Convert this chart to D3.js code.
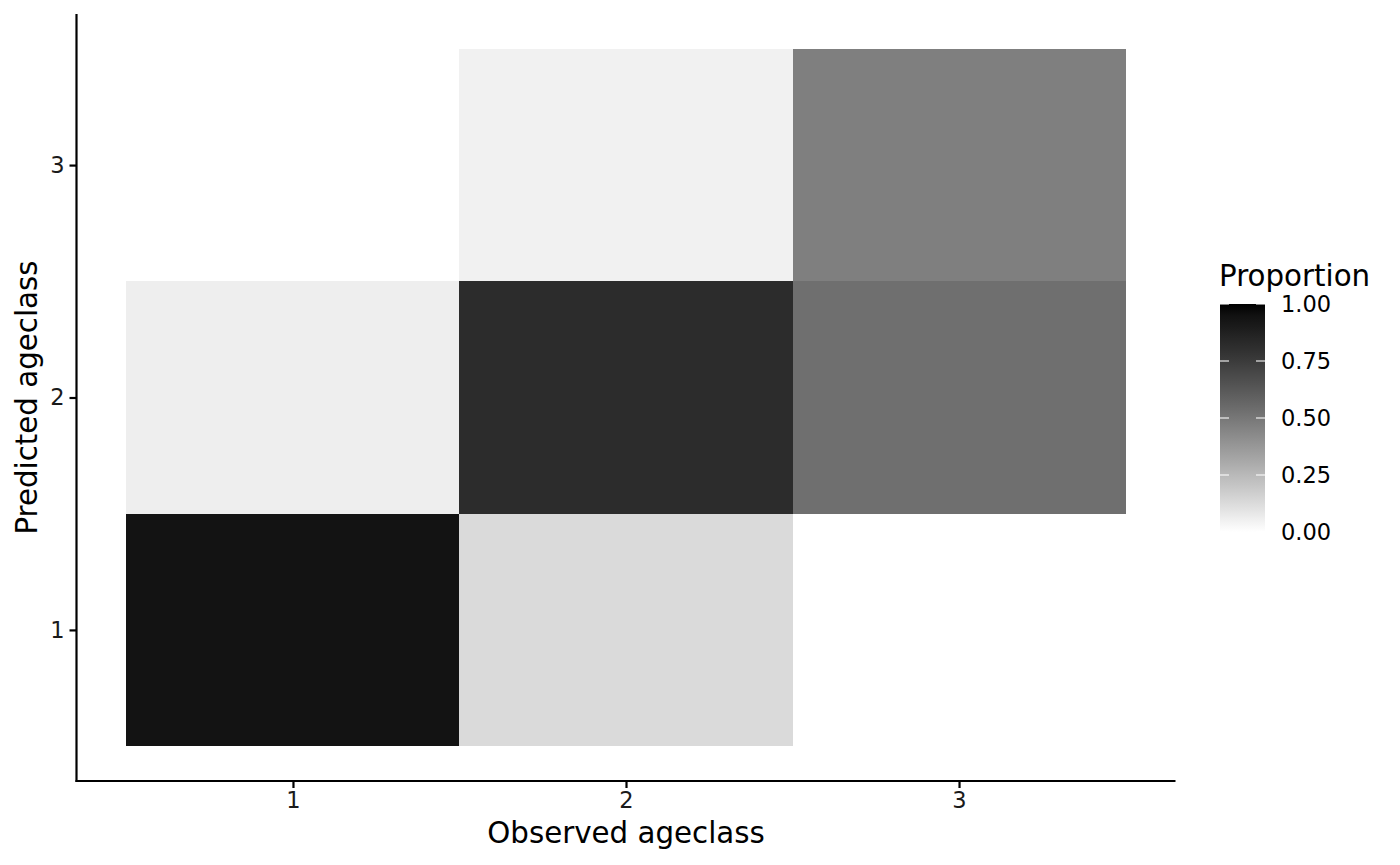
<!DOCTYPE html>
<html><head><meta charset="utf-8">
<script src="https://cdn.jsdelivr.net/npm/d3@7"></script>
<style>body{margin:0;background:#fff}svg{display:block}text{font-family:"DejaVu Sans",sans-serif}</style>
</head><body><svg id="c" width="1400" height="865"></svg>
<script>
const observed = [1, 1, 2, 2, 2, 3, 3];
const predicted = [1, 2, 1, 2, 3, 2, 3];
const proportion = [0.94, 0.06, 0.13, 0.82, 0.05, 0.53, 0.47];
const xTicks = [1, 2, 3];
const yTicks = [1, 2, 3];
const legendTicks = [0, 0.25, 0.5, 0.75, 1];

const svg = d3.select("#c");
const panel = {l: 76.5, r: 1175.5, t: 14, b: 781};
const x = d3.scaleLinear().domain([0.35, 3.65]).range([panel.l, panel.r]);
const y = d3.scaleLinear().domain([0.35, 3.65]).range([panel.b, panel.t]);
const fill = d3.scaleLinear().domain([0, 1]).range(["#ffffff", "#000000"]).interpolate(d3.interpolateLab);

const data = observed.map((o, i) => ({o, p: predicted[i], v: proportion[i]}));
svg.append("g").selectAll("rect").data(data).join("rect")
  .attr("x", d => x(d.o - 0.5)).attr("width", d => x(d.o + 0.5) - x(d.o - 0.5))
  .attr("y", d => y(d.p + 0.5)).attr("height", d => y(d.p - 0.5) - y(d.p + 0.5))
  .attr("fill", d => fill(d.v)).attr("shape-rendering", "crispEdges");

const tickFont = 22.5, titleFont = 29.3;
const xAxis = svg.append("g").attr("transform", `translate(0,${panel.b})`)
  .call(d3.axisBottom(x).tickValues(xTicks).tickSize(7).tickPadding(4).tickFormat(d3.format("d")));
const yAxis = svg.append("g").attr("transform", `translate(${panel.l},0)`)
  .call(d3.axisLeft(y).tickValues(yTicks).tickSize(7).tickPadding(5).tickFormat(d3.format("d")));
[xAxis, yAxis].forEach(a => {
  a.select(".domain").attr("stroke", "#000").attr("stroke-width", 2.2);
  a.selectAll(".tick line").attr("stroke", "#000").attr("stroke-width", 2.2);
  a.selectAll(".tick text").attr("fill", "#1a1a1a").style("font-size", tickFont + "px")
   .style("font-family", "DejaVu Sans");
});
xAxis.select(".domain").attr("d", `M${panel.l - 1},0H${panel.r}`);
yAxis.select(".domain").attr("d", `M0,${panel.b + 1}V${panel.t}`);

svg.append("text").attr("x", (panel.l + panel.r) / 2).attr("y", 843)
  .attr("text-anchor", "middle").style("font-size", titleFont + "px").text("Observed ageclass");
svg.append("text").attr("transform", `translate(37,${(panel.t + panel.b) / 2}) rotate(-90)`)
  .attr("text-anchor", "middle").style("font-size", titleFont + "px").text("Predicted ageclass");

// legend
const lg = {x: 1220, w: 45, t: 304, b: 532};
const ly = d3.scaleLinear().domain([0, 1]).range([lg.b, lg.t]);
const grad = svg.append("defs").append("linearGradient").attr("id", "g")
  .attr("x1", 0).attr("y1", 1).attr("x2", 0).attr("y2", 0);
d3.range(0, 1.0001, 0.05).forEach(t => grad.append("stop").attr("offset", t).attr("stop-color", fill(t)));
svg.append("rect").attr("x", lg.x).attr("y", lg.t).attr("width", lg.w).attr("height", lg.b - lg.t)
  .attr("fill", "url(#g)");
const lt = svg.append("g");
legendTicks.forEach(t => {
  lt.append("line").attr("x1", lg.x).attr("x2", lg.x + 9).attr("y1", ly(t)).attr("y2", ly(t))
    .attr("stroke", "#fff").attr("stroke-opacity", 0.7).attr("stroke-width", 1.5);
  lt.append("line").attr("x1", lg.x + lg.w - 9).attr("x2", lg.x + lg.w).attr("y1", ly(t)).attr("y2", ly(t))
    .attr("stroke", "#fff").attr("stroke-opacity", 0.7).attr("stroke-width", 1.5);
  lt.append("text").attr("x", 1281).attr("y", ly(t)).attr("dy", "0.36em")
    .style("font-size", tickFont + "px").attr("fill", "#000").text(d3.format(".2f")(t));
});
svg.append("text").attr("x", 1219).attr("y", 286).style("font-size", titleFont + "px").text("Proportion");
</script></body></html>
